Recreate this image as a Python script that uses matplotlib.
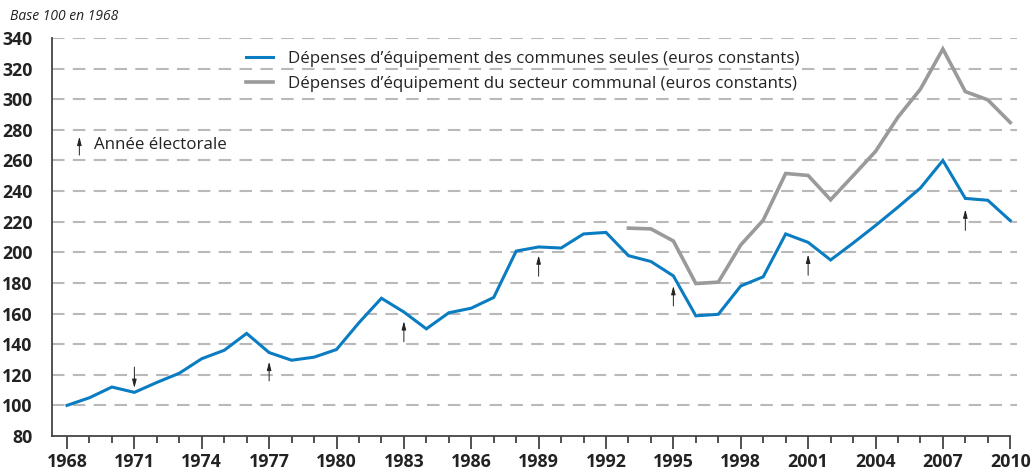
import numpy as np
import matplotlib
matplotlib.use("Agg")
import matplotlib.pyplot as plt
from matplotlib.ticker import MultipleLocator

# data (base 100 en 1968)
years = list(range(1968, 2011))
communes = [100, 105, 112, 108.5, 115, 121, 130.5, 136, 147, 134.5,
            129.5, 131.5, 136.5, 154, 170, 161, 150, 160.5, 163.5, 170.5,
            200.8, 203.5, 202.8, 212, 213, 197.8, 194, 184.6, 158.5, 159.5,
            178, 184, 212, 206.5, 195, 206, 217.5, 229.5, 242, 260,
            235.2, 234, 220.7]
sect_years = list(range(1993, 2011))
secteur = [215.8, 215.3, 207.4, 179.6, 180.5, 204.8, 221, 251.5, 250.2, 234.3,
           250, 265.9, 288.3, 306.6, 332.8, 305, 299.6, 284.8]

# electoral years: (year, tail value, head value)
elect_years = [1971, 1977, 1983, 1989, 1995, 2001, 2008]
arrow_tail = [125, 116, 141.6, 184.4, 165, 185, 214.3]
arrow_head = [111.4, 128.5, 155, 198, 178, 198.5, 228]

yticks = list(range(80, 341, 20))
xticks = list(range(1968, 2011, 3))

plt.rcParams['font.family'] = ['Open Sans', 'DejaVu Sans']

fig = plt.figure(figsize=(10.33, 4.75), dpi=100)
ax = fig.add_axes([0.0503, 0.0821, 0.9342, 0.8379])

blue = '#0a7cc1'
grey = '#9a9a9a'
arrow_style = '-|>,head_length=0.5,head_width=0.13'

for y in yticks[1:]:
    ax.axhline(y, color='#b9b9bc', lw=1.5, dashes=(6, 4), zorder=0)

ax.plot(years, communes, color=blue, lw=2.2, solid_joinstyle='miter',
        label="Dépenses d’équipement des communes seules (euros constants)")
ax.plot(sect_years, secteur, color=grey, lw=2.6, solid_joinstyle='miter',
        label="Dépenses d’équipement du secteur communal (euros constants)")

for yr, t, h in zip(elect_years, arrow_tail, arrow_head):
    ax.annotate('', xy=(yr, h), xytext=(yr, t),
                arrowprops=dict(arrowstyle=arrow_style,
                                color='#222222', lw=0.7, shrinkA=0, shrinkB=0))

# arrow legend
ax.annotate('', xy=(1968.55, 275.5), xytext=(1968.55, 263.5),
            arrowprops=dict(arrowstyle=arrow_style,
                            color='#222222', lw=0.7, shrinkA=0, shrinkB=0))
ax.text(1969.2, 270, 'Année électorale', fontsize=12.2, va='center', color='#222222')

leg = ax.legend(loc='upper left', bbox_to_anchor=(0.185, 1.005), frameon=False,
                fontsize=12.2, handlelength=1.6, handletextpad=0.9, labelspacing=0.5)
for t in leg.get_texts():
    t.set_color('#222222')

ax.set_xlim(1967.33, 2010.3)
ax.set_ylim(80, 340)
ax.set_yticks(yticks)
ax.set_xticks(xticks)
ax.xaxis.set_minor_locator(MultipleLocator(1))
ax.tick_params(axis='y', length=0, pad=14, labelsize=12.8)
ax.tick_params(axis='x', which='major', length=9, width=1.2, color='#333333',
               labelsize=12.8, pad=3)
ax.tick_params(axis='x', which='minor', length=5, width=1.2, color='#333333')
for lab in ax.get_xticklabels() + ax.get_yticklabels():
    lab.set_fontweight('bold')
    lab.set_color('#222222')

for s in ['top', 'right']:
    ax.spines[s].set_visible(False)
ax.spines['left'].set_color('#444444')
ax.spines['bottom'].set_color('#444444')
ax.spines['left'].set_linewidth(1.3)
ax.spines['bottom'].set_linewidth(1.3)
ax.spines['bottom'].set_bounds(1967.33, 2010)

fig.text(0.0097, 0.965, 'Base 100 en 1968', fontsize=10, style='italic',
         color='#222222', va='center')

fig.savefig('out.png', dpi=100)
